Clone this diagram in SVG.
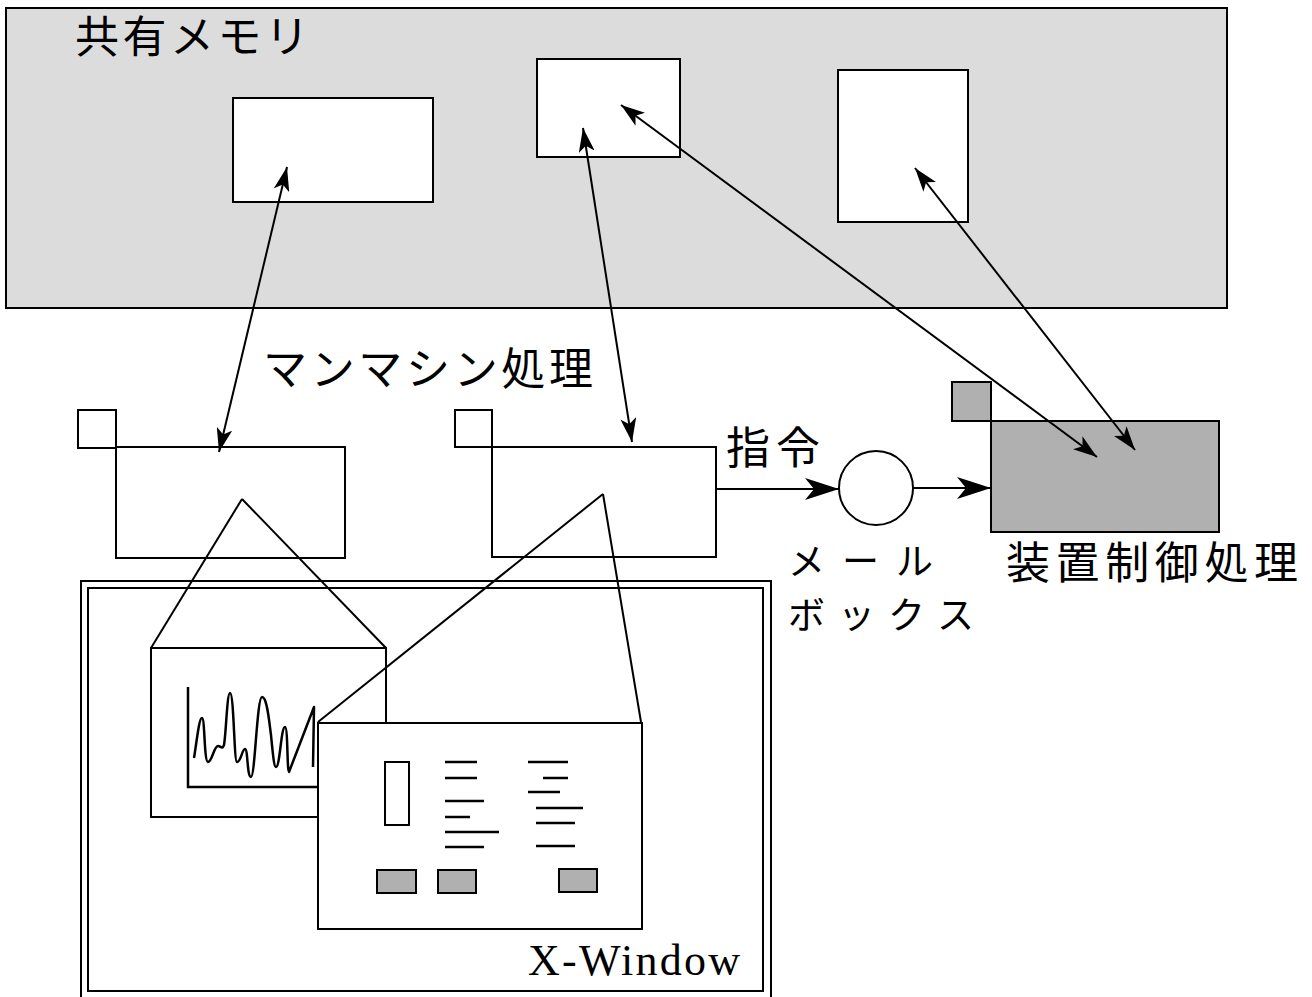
<svg xmlns="http://www.w3.org/2000/svg" width="1312" height="997" viewBox="0 0 1312 997">
<style>
.ln{fill:none;stroke:#000;stroke-width:2}
.box{fill:#fff;stroke:#000;stroke-width:2}
.thick{fill:none;stroke:#000;stroke-width:2.5}
.jp{font-family:"Noto Sans CJK JP","Noto Sans",sans-serif;font-size:44px;fill:#000}
.jps{font-family:"Noto Sans CJK JP","Noto Sans",sans-serif;font-size:37px;fill:#000}
.en{font-family:"Liberation Serif",serif;font-size:44px;fill:#000}
.shade{fill:#b0b0b0;stroke:#000;stroke-width:2}
</style>
<defs>
<marker id="ah" viewBox="0 0 24 16" refX="24" refY="8" markerWidth="24" markerHeight="16" markerUnits="userSpaceOnUse" orient="auto-start-reverse">
<path d="M0,0 L24,8 L0,16 L6,8 z" fill="#000"/>
</marker>
<marker id="ahb" viewBox="0 0 34 22" refX="34" refY="11" markerWidth="34" markerHeight="22" markerUnits="userSpaceOnUse" orient="auto">
<path d="M0,0 L34,11 L0,22 L9,11 z" fill="#000"/>
</marker>
</defs>
<rect width="1312" height="997" fill="#fff"/>

<g id="shared-memory">
<rect x="6" y="8" width="1221" height="300" fill="#dcdcdc" stroke="#000" stroke-width="2"/>
<text class="jp" x="75" y="53" textLength="234" lengthAdjust="spacing">共有メモリ</text>
<rect id="mem1" class="box" x="233" y="98" width="200" height="104"/>
<rect id="mem2" class="box" x="537" y="59" width="143" height="98"/>
<rect id="mem3" class="box" x="838" y="70" width="130" height="152"/>
</g>

<g id="manmachine-label">
<text class="jp" x="263" y="385" textLength="330" lengthAdjust="spacing">マンマシン処理</text>
</g>

<g id="mm-proc-1">
<rect class="box" x="78" y="410" width="38" height="38"/>
<rect class="box" x="116" y="447" width="229" height="111"/>
</g>
<g id="mm-proc-2">
<rect class="box" x="455" y="410" width="37" height="37"/>
<rect class="box" x="492" y="447" width="224" height="110"/>
</g>

<g id="xwindow">
<rect class="ln" x="81" y="581" width="690" height="430"/>
<rect class="ln" x="88" y="588" width="675" height="403"/>
<text class="en" x="528" y="975" textLength="212" lengthAdjust="spacing">X-Window</text>
</g>

<g id="graph-window">
<rect class="box" x="151" y="648" width="235" height="169"/>
<polyline class="thick" points="188,687 188,787 317,787"/>
<path class="thick" stroke-linejoin="round" d="M194,758 C197,740 199,718 202,718 C205,718 204,762 208,762 C212,762 214,746 218,746 C221,746 222,750 224,745 C226,735 227,693 230,693 C234,693 234,762 237,762 C241,762 242,749 245,749 C248,749 247,777 251,777 C255,777 257,697 262,697 C267,697 269,720 271,735 C273,755 274,767 276,767 C280,767 281,727 285,727 C288,727 287,772 289,772 L314,707 L313,767"/>
</g>

<g id="panel-window">
<rect class="box" x="318" y="723" width="324" height="206"/>
<rect class="box" x="385" y="762" width="24" height="63"/>
<g class="thick">
<line x1="445" y1="762" x2="477" y2="762"/>
<line x1="445" y1="778" x2="477" y2="778"/>
<line x1="445" y1="801" x2="484" y2="801"/>
<line x1="445" y1="817" x2="470" y2="817"/>
<line x1="445" y1="832" x2="499" y2="832"/>
<line x1="445" y1="847" x2="484" y2="847"/>
<line x1="528" y1="762" x2="568" y2="762"/>
<line x1="543" y1="778" x2="568" y2="778"/>
<line x1="528" y1="792" x2="560" y2="792"/>
<line x1="536" y1="808" x2="583" y2="808"/>
<line x1="536" y1="823" x2="575" y2="823"/>
<line x1="536" y1="846" x2="575" y2="846"/>
</g>
<rect class="shade" x="377" y="870" width="39" height="23"/>
<rect class="shade" x="438" y="870" width="38" height="23"/>
<rect class="shade" x="559" y="869" width="38" height="23"/>
</g>

<g id="mailbox">
<circle cx="876" cy="488" r="37" fill="#fff" stroke="#000" stroke-width="2"/>
<text class="jps" x="788" y="575" textLength="145" lengthAdjust="spacing">メール</text>
<text class="jps" x="788" y="629" textLength="186" lengthAdjust="spacing">ボックス</text>
</g>

<g id="device-control">
<rect class="shade" x="952" y="382" width="39" height="39"/>
<rect class="shade" x="991" y="421" width="228" height="111"/>
<text class="jp" x="1006" y="579" textLength="292" lengthAdjust="spacing">装置制御処理</text>
</g>

<g id="connectors">
<line class="ln" x1="287" y1="167" x2="219" y2="452" marker-start="url(#ah)" marker-end="url(#ah)"/>
<line class="ln" x1="583" y1="128" x2="632" y2="442" marker-start="url(#ah)" marker-end="url(#ah)"/>
<line class="ln" x1="621" y1="105" x2="1097" y2="457" marker-start="url(#ah)" marker-end="url(#ah)"/>
<line class="ln" x1="915" y1="168" x2="1135" y2="450" marker-start="url(#ah)" marker-end="url(#ah)"/>
<line class="ln" x1="242" y1="499" x2="151" y2="648"/>
<line class="ln" x1="242" y1="499" x2="386" y2="648"/>
<line class="ln" x1="603" y1="494" x2="318" y2="722"/>
<line class="ln" x1="603" y1="494" x2="641" y2="722"/>
<line class="ln" x1="716" y1="489" x2="839" y2="489" marker-end="url(#ahb)"/>
<line class="ln" x1="913" y1="488" x2="991" y2="488" marker-end="url(#ahb)"/>
<text class="jp" x="726" y="464" textLength="94" lengthAdjust="spacing">指令</text>
</g>
</svg>
